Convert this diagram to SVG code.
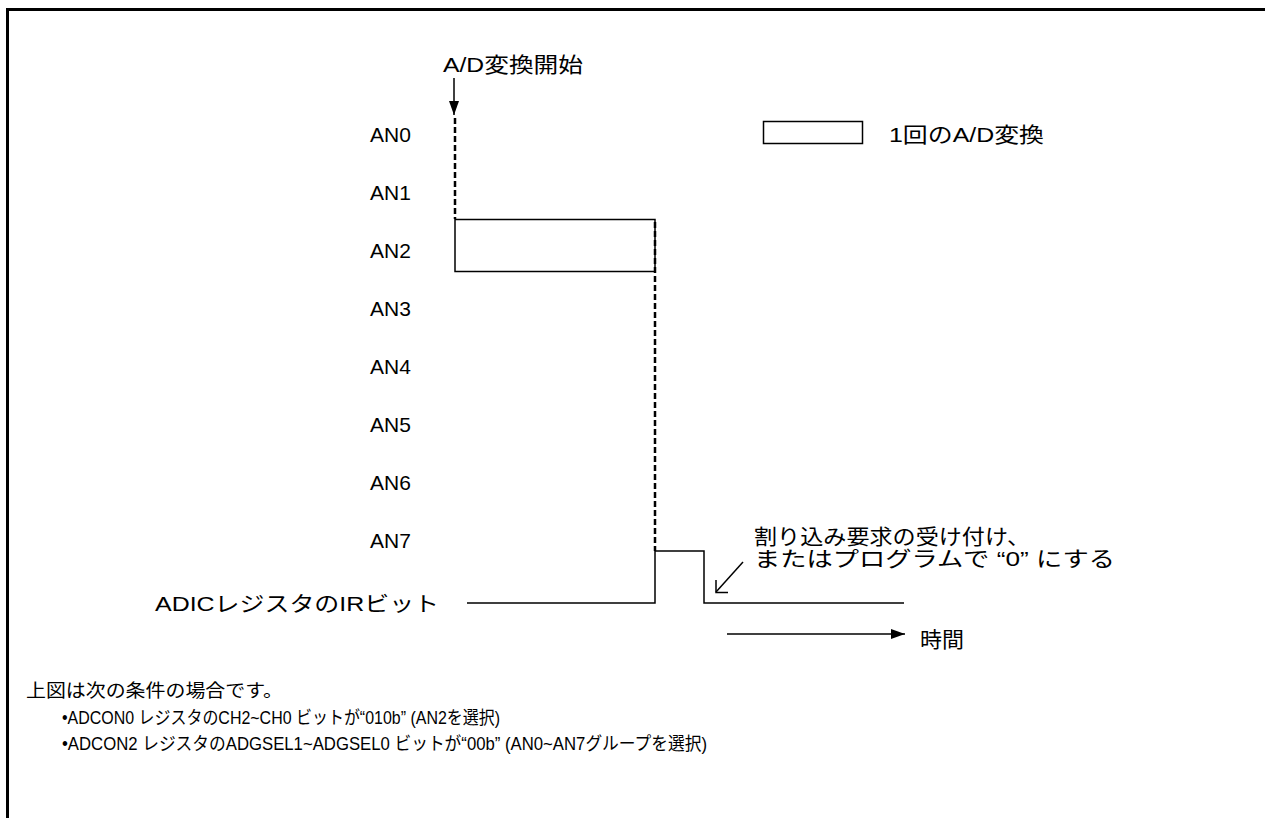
<svg xmlns="http://www.w3.org/2000/svg" width="1265" height="818" viewBox="0 0 1265 818">
<style>
text{font-family:"Liberation Sans","Noto Sans CJK JP",sans-serif;fill:#000}
.l{font-size:21px}
.s{font-size:18px}
.ln{stroke:#000;stroke-width:1.5;fill:none}
.d{stroke:#000;stroke-width:2.5;stroke-dasharray:6,3;fill:none}
</style>
<defs>
<marker id="ahb" viewBox="0 0 14 10" refX="14" refY="5" markerWidth="14" markerHeight="14" markerUnits="userSpaceOnUse" orient="auto"><path d="M0,0L14,5L0,10z" fill="#000"/></marker>
</defs>
<rect x="7.5" y="9.5" width="1300" height="850" fill="none" stroke="#000" stroke-width="3"/>
<g id="labels">
<text class="l" x="443" y="72" textLength="140" lengthAdjust="spacingAndGlyphs">A/D変換開始</text>
<text class="l" x="370" y="142">AN0</text>
<text class="l" x="370" y="200">AN1</text>
<text class="l" x="370" y="258">AN2</text>
<text class="l" x="370" y="316">AN3</text>
<text class="l" x="370" y="374">AN4</text>
<text class="l" x="370" y="432">AN5</text>
<text class="l" x="370" y="490">AN6</text>
<text class="l" x="370" y="548">AN7</text>
<text class="l" x="155" y="611" textLength="284" lengthAdjust="spacingAndGlyphs">ADICレジスタのIRビット</text>
</g>
<g id="legend">
<rect x="763.5" y="121.5" width="99" height="22" class="ln"/>
<text class="l" x="889" y="142" textLength="155" lengthAdjust="spacingAndGlyphs">1回のA/D変換</text>
</g>
<g id="conversion">
<rect x="455" y="219.5" width="200" height="52" class="ln"/>
</g>
<g id="note">
<text class="l" x="754" y="544" textLength="276" lengthAdjust="spacingAndGlyphs">割り込み要求の受け付け、</text>
<text class="l" x="754" y="566" textLength="361" lengthAdjust="spacingAndGlyphs">またはプログラムで “0” にする</text>
</g>
<g id="time">
<text class="l" x="920" y="647" textLength="44" lengthAdjust="spacingAndGlyphs">時間</text>
</g>
<g id="connectors">
<line x1="454" y1="78" x2="454" y2="115" class="ln" marker-end="url(#ahb)"/>
<line x1="455" y1="118" x2="455" y2="219" class="d"/>
<line x1="655" y1="222" x2="655" y2="551" class="d"/>
<polyline points="467,603 655,603 655,551 704,551 704,603 904,603" class="ln"/>
<line x1="743" y1="562" x2="716" y2="592" class="ln"/>
<polyline points="716,580 716,592.5 728,592.5" class="ln"/>
<line x1="727" y1="634" x2="905" y2="634" class="ln" marker-end="url(#ahb)"/>
</g>
<g id="conditions">
<text class="s" x="26" y="697" textLength="257" lengthAdjust="spacingAndGlyphs">上図は次の条件の場合です。</text>
<text class="s" x="62" y="724" textLength="438" lengthAdjust="spacingAndGlyphs">•ADCON0 レジスタのCH2~CH0 ビットが“010b” (AN2を選択)</text>
<text class="s" x="62" y="750" textLength="645" lengthAdjust="spacingAndGlyphs">•ADCON2 レジスタのADGSEL1~ADGSEL0 ビットが“00b” (AN0~AN7グループを選択)</text>
</g>
</svg>
